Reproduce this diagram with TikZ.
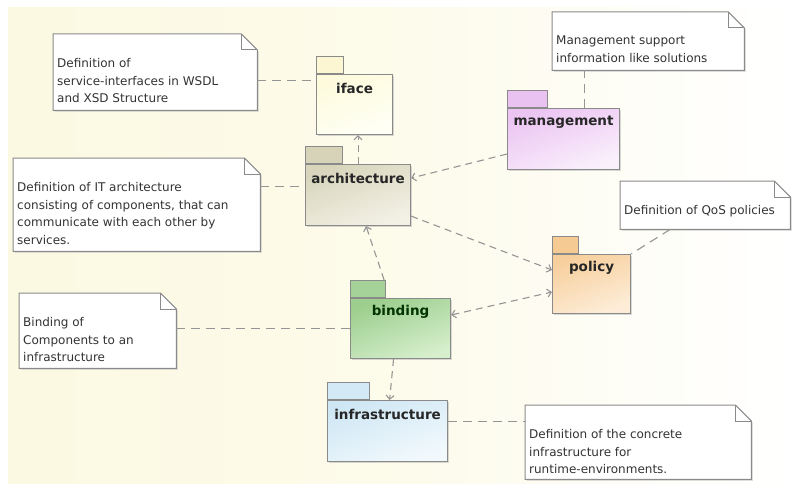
\documentclass[tikz,border=0pt]{standalone}
\usepackage{fontspec}
\setmainfont{DejaVu Sans}
\usetikzlibrary{arrows.meta,calc,shadows}
\definecolor{bgL}{HTML}{FCF9E2}
\definecolor{lineC}{HTML}{8A8A8A}
\definecolor{connC}{HTML}{959595}
\definecolor{ifaceT}{HTML}{FDFBDC}\definecolor{ifaceB}{HTML}{FFFFF6}\definecolor{ifaceTab}{HTML}{FCF7D2}
\definecolor{archT}{HTML}{D8D5BC}\definecolor{archB}{HTML}{F3F1E6}\definecolor{archTab}{HTML}{D6D3B8}
\definecolor{mgmtT}{HTML}{EBC4F2}\definecolor{mgmtB}{HTML}{FAF0FC}\definecolor{mgmtTab}{HTML}{EAC2F1}
\definecolor{policyT}{HTML}{F7CF9D}\definecolor{policyB}{HTML}{FDEDD8}\definecolor{policyTab}{HTML}{F6CA93}
\definecolor{bindT}{HTML}{9CCE8D}\definecolor{bindB}{HTML}{D6EFCD}\definecolor{bindTab}{HTML}{A5D298}
\definecolor{infraT}{HTML}{CFE7F4}\definecolor{infraB}{HTML}{F2F9FD}\definecolor{infraTab}{HTML}{D3EAF6}
\tikzset{
  pkgline/.style={draw=lineC, line width=1.1pt, inner sep=0pt},
  pkgshadow/.style={drop shadow={shadow xshift=1.5pt, shadow yshift=-1.5pt, fill=black!30, opacity=0.5}},
  pkglabel/.style={font=\fontsize{13.5}{16}\selectfont\bfseries, text=black!85, inner sep=0pt},
  notebg/.style={inner sep=0pt, draw=none},
  noteline/.style={draw=lineC, line width=1pt, line join=miter},
  notetext/.style={font=\fontsize{12}{17.7}\selectfont, text=black!80, align=left, inner sep=0pt},
  dep/.style={draw=connC, line width=1.1pt, dash pattern=on 7pt off 5pt, -{Straight Barb[length=4pt,width=8pt]}},
  bidep/.style={draw=connC, line width=1.1pt, dash pattern=on 7pt off 5pt, {Straight Barb[length=4pt,width=8pt]}-{Straight Barb[length=4pt,width=8pt]}},
  link/.style={draw=connC, line width=1.1pt, dash pattern=on 9pt off 6pt},
}
\newcommand\pkgbox[8]{%
  \node[pkgline, pkgshadow, top color=#1T, bottom color=#1B, shading angle=20, minimum width=#4pt, minimum height=#5pt, anchor=north west] (#1) at (#2,#3) {};
  \node[pkgline, fill=#1Tab, minimum width=#6pt, minimum height=17pt, anchor=south west] (#1-tab) at (#1.north west) {};
  \node[pkglabel, text=#8] (#1-label) at ([yshift=-14pt]#1.north) {#7};
}
\newcommand\notebox[6]{%
  \node[notebg, minimum width=#4pt, minimum height=#5pt, anchor=north west] (#1) at (#2,#3) {};
  \fill[black!25, opacity=0.5] ([xshift=1.5pt,yshift=-1.5pt]#1.north west) -- ([xshift=-14.5pt,yshift=-1.5pt]#1.north east) -- ([xshift=1.5pt,yshift=-17.5pt]#1.north east) -- ([xshift=1.5pt,yshift=-1.5pt]#1.south east) -- ([xshift=1.5pt,yshift=-1.5pt]#1.south west) -- cycle;
  \filldraw[noteline, fill=white] (#1.north west) -- ([xshift=-16pt]#1.north east) -- ([yshift=-16pt]#1.north east) -- (#1.south east) -- (#1.south west) -- cycle;
  \draw[noteline] ([xshift=-16pt]#1.north east) |- ([yshift=-16pt]#1.north east);
  \node[notetext, anchor=north west] (#1-text) at ([xshift=4pt,yshift=-24pt]#1.north west) {#6};
}
\begin{document}
\begin{tikzpicture}[x=1pt,y=-1pt]
\useasboundingbox (0,0) rectangle (792,484);
\fill[white] (0,0) rectangle (792,484);
\shade[left color=bgL, right color=white, middle color=bgL!70] (8,8) rectangle (792,484);

% notes
\notebox{n1}{53}{34}{204}{76}{Definition of\\service-interfaces in WSDL\\and XSD Structure}
\notebox{n2}{13}{158}{247}{93}{Definition of IT architecture\\consisting of components, that can\\communicate with each other by\\services.}
\notebox{nm}{552}{12}{192}{58}{Management support\\information like solutions}
\notebox{nq}{620}{181}{170}{48}{Definition of QoS policies}
\notebox{nb}{19}{293}{157}{75}{Binding of\\Components to an\\infrastructure}
\notebox{ni}{525}{405}{226}{74}{Definition of the concrete\\infrastructure for\\runtime-environments.}

% packages
\pkgbox{iface}{316}{74}{76}{60}{27}{iface}{black!85}
\pkgbox{arch}{305}{164}{105}{61}{37}{architecture}{black!85}
\pkgbox{mgmt}{507}{108}{112}{61}{40}{management}{black!85}
\pkgbox{policy}{552}{254}{78}{59}{26}{policy}{black!85}
\pkgbox{bind}{350}{298}{100}{60}{35}{binding}{green!20!black}
\pkgbox{infra}{327}{400}{120}{61}{42}{infrastructure}{black!85}

% note links
\draw[link] ([yshift=-8pt]n1.east) -- ([yshift=-8pt]n1.east -| iface.west);
\draw[link] ([yshift=18pt]n2.east) -- ([yshift=18pt]n2.east -| arch.west);
\draw[link] ([xshift=21pt]mgmt.north) -- ([xshift=21pt]mgmt.north |- nm.south);
\draw[link] ([xshift=-35pt]nq.south) -- (policy.north east);
\draw[link] (bind.west -| nb.east) -- (bind.west);
\draw[link] ([yshift=10pt]infra.east) -- ([yshift=10pt]infra.east -| ni.west);

% dependencies
\draw[dep] (arch.north) -- (arch.north |- iface.south);
\draw[dep] ([yshift=-15pt]mgmt.west) -- ([yshift=17pt]arch.east);
\draw[dep] ([yshift=10pt]arch.south east) -- ([yshift=-16pt]policy.north west);
\draw[dep] ([xshift=-2pt]bind-tab.north east) -- ([xshift=8pt]arch.south);
\draw[bidep] ([yshift=-17pt]bind.north east) -- ([yshift=-38pt]policy.north west);
\draw[dep] ([xshift=-7pt]bind.south) -- ([xshift=2pt]infra.north);
\end{tikzpicture}
\end{document}
